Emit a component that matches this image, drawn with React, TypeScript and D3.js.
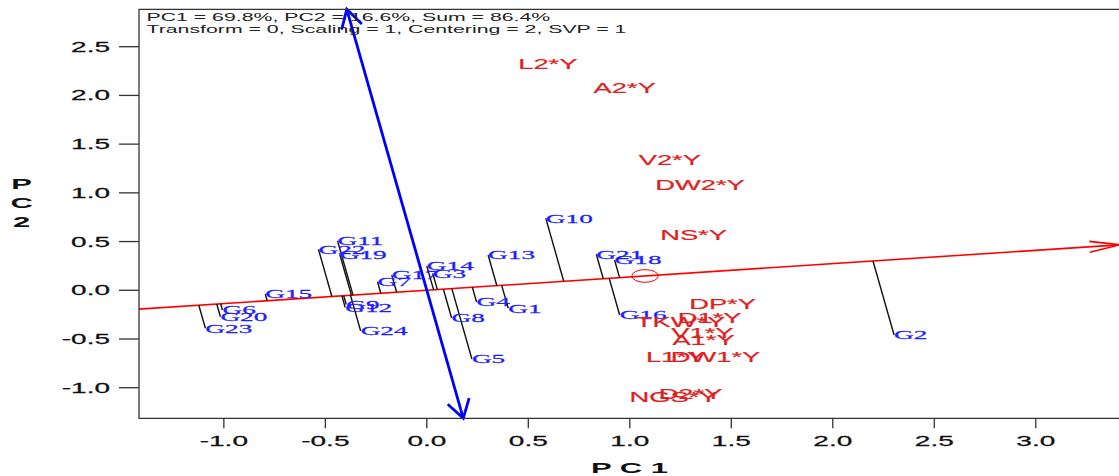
import React, { useEffect, useRef } from 'react';
import * as d3 from 'd3';

// genotype scores (PC1, PC2)
const genotypes = ['G1', 'G2', 'G3', 'G4', 'G5', 'G6', 'G7', 'G8', 'G9', 'G10', 'G11', 'G12',
	'G13', 'G14', 'G15', 'G16', 'G17', 'G18', 'G19', 'G20', 'G21', 'G22', 'G23', 'G24'];
const genoPC1 = [0.401, 2.302, 0.029, 0.245, 0.222, -1.007, -0.243, 0.122, -0.397, 0.586, -0.44, -0.402,
	0.302, 0.0, -0.796, 0.95, -0.173, 0.925, -0.429, -1.017, 0.835, -0.534, -1.091, -0.326];
const genoPC2 = [-0.185, -0.459, 0.175, -0.12, -0.705, -0.202, 0.088, -0.284, -0.146, 0.739, 0.509, -0.177,
	0.362, 0.249, -0.038, -0.254, 0.157, 0.311, 0.37, -0.271, 0.37, 0.421, -0.39, -0.418];

// trait*year scores
const traits = ['L2*Y', 'A2*Y', 'V2*Y', 'DW2*Y', 'NS*Y', 'DP*Y', 'D1*Y', 'TKW*Y', 'V1*Y', 'A1*Y',
	'L1*Y', 'DW1*Y', 'NGS*Y', 'D2*Y'];
const traitPC1 = [0.596, 0.975, 1.197, 1.346, 1.314, 1.457, 1.393, 1.25, 1.358, 1.363, 1.225, 1.422, 1.215, 1.299];
const traitPC2 = [2.323, 2.074, 1.338, 1.081, 0.568, -0.141, -0.287, -0.325, -0.435, -0.51, -0.682, -0.682, -1.092, -1.065];

// average environment point
const avgEnv = [1.075, 0.147];

const xTicks = [-1.0, -0.5, 0.0, 0.5, 1.0, 1.5, 2.0, 2.5, 3.0];
const yTicks = [-1.0, -0.5, 0.0, 0.5, 1.0, 1.5, 2.0, 2.5];
const infoLines = ['PC1 = 69.8%, PC2 = 16.6%, Sum = 86.4%', 'Transform = 0, Scaling = 1, Centering = 2, SVP = 1'];

const App: React.FC = () => {
	const svgRef = useRef<SVGSVGElement>(null);

	useEffect(() => {
		if (!svgRef.current) return;
		const width = 1119;
		const height = 476;
		const left = 139, right = 1120, top = 9.3, bottom = 418.3;

		const x = d3.scaleLinear().domain([-1.418, 3.415]).range([left, right]);
		const y = d3.scaleLinear().domain([-1.314, 2.884]).range([bottom, top]);

		const svg = d3.select(svgRef.current).attr('width', width).attr('height', height);
		svg.selectAll('*').remove();

		const sans = "'Liberation Sans', Arial, sans-serif";
		const serif = "'Liberation Serif', 'Times New Roman', serif";

		// text stretched horizontally like the source image
		const stretchText = (g: any, px: number, py: number, sx: number, txt: string) =>
			g.append('text')
				.attr('transform', `translate(${px},${py}) scale(${sx},1)`)
				.text(txt);

		const arrowHead = (tx: number, ty: number, bx: number, by: number, len: number, ang: number, color: string, w: number) => {
			const th = Math.atan2(by - ty, bx - tx);
			const a = (ang * Math.PI) / 180;
			const p1 = [tx + len * Math.cos(th + a), ty + len * Math.sin(th + a)];
			const p2 = [tx + len * Math.cos(th - a), ty + len * Math.sin(th - a)];
			svg.append('path')
				.attr('d', `M${p1[0]},${p1[1]}L${tx},${ty}L${p2[0]},${p2[1]}`)
				.attr('fill', 'none')
				.attr('stroke', color)
				.attr('stroke-width', w);
		};

		const [xmin, xmax] = x.domain();
		const [ymin, ymax] = y.domain();

		// ATC abscissa (red) through origin and the average environment
		const slope = avgEnv[1] / avgEnv[0];
		svg.append('line')
			.attr('x1', x(xmin)).attr('y1', y(slope * xmin))
			.attr('x2', x(xmax)).attr('y2', y(slope * xmax))
			.attr('stroke', '#ff0000').attr('stroke-width', 1.6);
		arrowHead(x(xmax), y(slope * xmax), x(xmax - 1), y(slope * (xmax - 1)), 31, 10, '#ff0000', 1.6);

		// ATC ordinate (blue), perpendicular
		svg.append('line')
			.attr('x1', x(-slope * ymax)).attr('y1', y(ymax))
			.attr('x2', x(-slope * ymin)).attr('y2', y(ymin))
			.attr('stroke', '#0000ff').attr('stroke-width', 2.8);
		arrowHead(x(-slope * ymax), y(ymax), x(0), y(0), 21, 30, '#0000ff', 2.8);
		arrowHead(x(-slope * ymin), y(ymin), x(0), y(0), 21, 32, '#0000ff', 2.8);

		// projections of genotypes onto the red axis
		const norm = Math.hypot(avgEnv[0], avgEnv[1]);
		const ux = avgEnv[0] / norm, uy = avgEnv[1] / norm;
		genotypes.forEach((_, i) => {
			const d = genoPC1[i] * ux + genoPC2[i] * uy;
			svg.append('line')
				.attr('x1', x(genoPC1[i])).attr('y1', y(genoPC2[i]))
				.attr('x2', x(d * ux)).attr('y2', y(d * uy))
				.attr('stroke', '#111').attr('stroke-width', 1.4);
		});

		// genotype labels
		const gLab = svg.append('g')
			.attr('font-family', serif).attr('font-size', 13).attr('fill', '#1f1fff')
			.attr('stroke', '#1f1fff').attr('stroke-width', 0.25);
		genotypes.forEach((g, i) => {
			stretchText(gLab, x(genoPC1[i]), y(genoPC2[i]), 2.1, g).attr('dy', '0.33em');
		});

		// trait labels
		const tLab = svg.append('g')
			.attr('font-family', sans).attr('font-size', 14).attr('fill', '#e02020')
			.attr('stroke', '#e02020').attr('stroke-width', 0.2)
			.attr('text-anchor', 'middle');
		traits.forEach((t, i) => {
			stretchText(tLab, x(traitPC1[i]), y(traitPC2[i]), 1.95, t).attr('dy', '0.36em');
		});

		// average environment marker (circle in data units)
		svg.append('ellipse')
			.attr('cx', x(avgEnv[0])).attr('cy', y(avgEnv[1]))
			.attr('rx', x(0.065) - x(0)).attr('ry', y(0) - y(0.065))
			.attr('fill', 'none').attr('stroke', '#ff0000').attr('stroke-width', 1);

		// frame
		svg.append('path')
			.attr('d', `M${right + 2},${top}H${left}V${bottom}H${right + 2}`)
			.attr('fill', 'none').attr('stroke', '#333').attr('stroke-width', 1.3);

		// y axis
		const yAx = svg.append('g').attr('font-family', sans).attr('font-size', 14).attr('fill', '#111')
			.attr('text-anchor', 'end');
		yTicks.forEach((t) => {
			yAx.append('line').attr('x1', left - 20).attr('x2', left).attr('y1', y(t)).attr('y2', y(t))
				.attr('stroke', '#333').attr('stroke-width', 1.3);
			stretchText(yAx, 110, y(t), 2.0, t.toFixed(1)).attr('dy', '0.36em')
				.attr('stroke', '#111').attr('stroke-width', 0.25);
		});

		// x axis
		const xAx = svg.append('g').attr('font-family', sans).attr('font-size', 14).attr('fill', '#111')
			.attr('text-anchor', 'middle');
		xTicks.forEach((t) => {
			xAx.append('line').attr('x1', x(t)).attr('x2', x(t)).attr('y1', bottom).attr('y2', bottom + 10)
				.attr('stroke', '#333').attr('stroke-width', 1.3);
			stretchText(xAx, x(t), 441, 2.0, t.toFixed(1)).attr('dy', '0.36em')
				.attr('stroke', '#111').attr('stroke-width', 0.25);
		});

		// axis titles
		const titles = svg.append('g').attr('font-family', sans).attr('font-size', 15.5)
			.attr('font-weight', 'bold').attr('fill', '#111').attr('text-anchor', 'middle');
		stretchText(titles, (left + right) / 2, 467, 2.0, 'P C 1').attr('dy', '0.36em');
		['P', 'C', '2'].forEach((c, i) => {
			stretchText(titles, 21.7, 183 + i * 19, 2.0, c).attr('dy', '0.36em');
		});

		// info text
		const info = svg.append('g').attr('font-family', sans).attr('font-size', 11.5).attr('fill', '#222');
		infoLines.forEach((l, i) => {
			stretchText(info, 146.5, 21 + i * 12.3, 1.85, l);
		});
	}, []);

	return <svg ref={svgRef} style={{ position: 'absolute', left: 0, top: 0, background: '#fff' }}></svg>;
};

export default App;
